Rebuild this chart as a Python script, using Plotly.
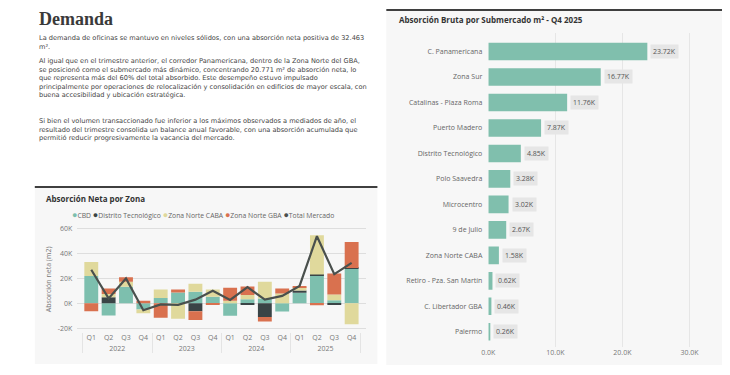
import plotly.graph_objects as go

# page body has an 8px default margin: figure is sized so that it fits the 730x375 window
OFF = 8
W, H = 714, 359

# ---------------- data: Absorción Neta por Zona (m²) ----------------
years = ["2022"] * 4 + ["2023"] * 4 + ["2024"] * 4 + ["2025"] * 4
quarters = ["Q1", "Q2", "Q3", "Q4"] * 4
cbd = [22000, -9700, 13300, -5000, 4300, 8800, 9300, 5300,
       -10000, 3200, 4000, -6500, 8500, 22700, 2400, 28000]
distrito_tec = [0, 5000, 0, 0, 0, 0, -6300, 0,
                0, -1000, -11000, 0, 1900, 500, -1000, 500]
zona_norte_caba = [11300, 2500, 4000, -3000, 6900, -12300, 6400, 5900,
                   2000, 3500, 13300, 8000, 2600, 31500, 4800, -16800]
zona_norte_gba = [-6300, 4500, 3700, 2000, -11500, 2400, -7000, -1000,
                  10500, 6900, -3700, 4000, 1000, -1500, 16800, 20800]
total_mercado = [27000, 4000, 20000, -5500, -800, -1200, 3000, 10200,
                 2800, 13000, 3000, 6000, 14000, 54000, 23500, 32500]
net_tickvals = [-20000, 0, 20000, 40000, 60000]
net_ticktext = ["-20K", "0K", "20K", "40K", "60K"]

# ---------------- data: Absorción Bruta por Submercado ----------------
submercados = ["C. Panamericana", "Zona Sur", "Catalinas - Plaza Roma", "Puerto Madero",
               "Distrito Tecnológico", "Polo Saavedra", "Microcentro", "9 de Julio",
               "Zona Norte CABA", "Retiro - Pza. San Martín", "C. Libertador GBA", "Palermo"]
bruta = [23720, 16770, 11760, 7870, 4850, 3280, 3020, 2670, 1580, 620, 460, 260]
bruta_tickvals = [0, 10000, 20000, 30000]
bruta_ticktext = ["0.0K", "10.0K", "20.0K", "30.0K"]

# ---------------- text ----------------
heading = "Demanda"
para_lines = [
    ["La demanda de oficinas se mantuvo en niveles sólidos, con una absorción neta positiva de 32.463",
     "m²."],
    ["Al igual que en el trimestre anterior, el corredor Panamericana, dentro de la Zona Norte del GBA,",
     "se posicionó como el submercado más dinámico, concentrando 20.771 m² de absorción neta, lo",
     "que representa más del 60% del total absorbido. Este desempeño estuvo impulsado",
     "principalmente por operaciones de relocalización y consolidación en edificios de mayor escala, con",
     "buena accesibilidad y ubicación estratégica."],
    ["Si bien el volumen transaccionado fue inferior a los máximos observados a mediados de año, el",
     "resultado del trimestre consolida un balance anual favorable, con una absorción acumulada que",
     "permitió reducir progresivamente la vacancia del mercado."],
]

# ---------------- styles ----------------
C_CBD = "#7dbfae"
C_DT = "#3a4446"
C_CABA = "#e0d99c"
C_GBA = "#d9714f"
C_TOT = "#4a504d"
C_BAR = "#80bfad"
FONT = "Open Sans, Noto Sans, sans-serif"
PFONT = "DejaVu Sans, sans-serif"
PANEL = "#f7f7f7"


def px(x):
    return (x - OFF) / W


def py(y):
    return 1 - (y - OFF) / H


x_multi = [years, quarters]

fig = go.Figure()
for name, vals, col in [("CBD", cbd, C_CBD), ("Distrito Tecnológico", distrito_tec, C_DT),
                        ("Zona Norte CABA", zona_norte_caba, C_CABA),
                        ("Zona Norte GBA", zona_norte_gba, C_GBA)]:
    fig.add_trace(go.Bar(x=x_multi, y=vals, name=name, marker=dict(color=col, line=dict(width=0)),
                         xaxis="x", yaxis="y", showlegend=False))
fig.add_trace(go.Scatter(x=x_multi, y=total_mercado, name="Total Mercado", mode="lines",
                         line=dict(color=C_TOT, width=2.2), xaxis="x", yaxis="y", showlegend=False))

fig.add_trace(go.Bar(x=bruta, y=submercados, orientation="h", marker=dict(color=C_BAR, line=dict(width=0)),
                     xaxis="x2", yaxis="y2", showlegend=False, width=0.69))

annotations = []
for s, v in zip(submercados, bruta):
    annotations.append(dict(x=v, y=s, xref="x2", yref="y2", xanchor="left", yanchor="middle",
                            xshift=3, text=f"{v/1000:.2f}K", showarrow=False,
                            bgcolor="#e6e6e6", borderpad=2,
                            font=dict(family=FONT, size=7, color="#555")))

annotations.append(dict(x=px(31), y=py(18.5), xref="paper", yref="paper", xanchor="left", yanchor="middle",
                        text=f"<b>{heading}</b>", showarrow=False, borderpad=0,
                        font=dict(family="Liberation Serif, serif", size=18, color="#3a3a3a")))
para_center_y = [42, 77.8, 129.3]
for lines, yy in zip(para_lines, para_center_y):
    annotations.append(dict(x=px(31), y=py(yy), xref="paper", yref="paper", xanchor="left",
                            yanchor="middle", align="left", text="<br>".join(lines), showarrow=False,
                            borderpad=0, font=dict(family=PFONT, size=6.6, color="#444")))

annotations.append(dict(x=px(37), y=py(199), xref="paper", yref="paper", xanchor="left", yanchor="middle",
                        text="<b>Absorción Neta por Zona</b>", showarrow=False,
                        font=dict(family=FONT, size=8, color="#333")))
annotations.append(dict(x=px(394), y=py(19), xref="paper", yref="paper", xanchor="left", yanchor="middle",
                        text="<b>Absorción Bruta por Submercado m² - Q4 2025</b>", showarrow=False,
                        font=dict(family=FONT, size=8, color="#333")))

leg_items = [("CBD", C_CBD), ("Distrito Tecnológico", C_DT), ("Zona Norte CABA", C_CABA),
             ("Zona Norte GBA", C_GBA), ("Total Mercado", C_TOT)]
leg_text = " ".join(f"<span style='color:{c};font-size:9px'>●</span>{n}" for n, c in leg_items)
annotations.append(dict(x=px(64), y=py(215), xref="paper", yref="paper", xanchor="left", yanchor="middle",
                        text=leg_text, showarrow=False, font=dict(family=FONT, size=6.8, color="#666")))

annotations.append(dict(x=px(42), y=py(280), xref="paper", yref="paper", xanchor="center", yanchor="middle",
                        text="Absorción neta (m2)", textangle=-90, showarrow=False,
                        font=dict(family=FONT, size=7, color="#777")))

shapes = [
    dict(type="rect", xref="paper", yref="paper", x0=px(28), x1=px(374), y0=py(365), y1=py(188),
         fillcolor=PANEL, line=dict(width=0), layer="below"),
    dict(type="line", xref="paper", yref="paper", x0=px(28), x1=px(374), y0=py(187), y1=py(187),
         line=dict(color="#3f3f3f", width=2)),
    dict(type="rect", xref="paper", yref="paper", x0=px(383), x1=min(px(723), 1), y0=py(366), y1=py(9),
         fillcolor=PANEL, line=dict(width=0), layer="below"),
    dict(type="line", xref="paper", yref="paper", x0=px(383), x1=min(px(723), 1), y0=py(9), y1=py(9),
         line=dict(color="#3f3f3f", width=2)),
]

fig.update_layout(
    width=W, height=H, margin=dict(l=0, r=0, t=0, b=0),
    paper_bgcolor="white", plot_bgcolor="rgba(0,0,0,0)",
    barmode="relative", bargap=0.2, showlegend=False,
    font=dict(family=FONT, size=7, color="#777"),
    xaxis=dict(domain=[px(71), px(362)], anchor="y", type="multicategory", range=[-0.8, 15.8],
               showgrid=False, zeroline=False, showline=False, ticks="", tickangle=0,
               showdividers=True, dividercolor="#e4e4e4", dividerwidth=1,
               tickfont=dict(size=7, color="#777")),
    yaxis=dict(domain=[py(332.75), py(225.25)], anchor="x", range=[-23000, 63000],
               tickvals=net_tickvals, ticktext=net_ticktext, showgrid=True, gridcolor="#dedede",
               gridwidth=1, zeroline=False, showline=False, ticks="", ticklabelstandoff=4,
               tickfont=dict(size=7, color="#777")),
    xaxis2=dict(domain=[px(486), px(720)], anchor="y2", range=[0, 34560],
                tickvals=bruta_tickvals, ticktext=bruta_ticktext, showgrid=True, gridcolor="#e6e6e6",
                zeroline=False, showline=False, ticks="", tickfont=dict(size=7, color="#777")),
    yaxis2=dict(domain=[py(348), py(32)], anchor="x2", type="category", range=[11.6, -0.73],
                showgrid=False, zeroline=False, showline=False, ticks="", ticklabelstandoff=5,
                tickfont=dict(size=7, color="#666")),
    annotations=annotations, shapes=shapes,
)

fig.write_html("out.html")
